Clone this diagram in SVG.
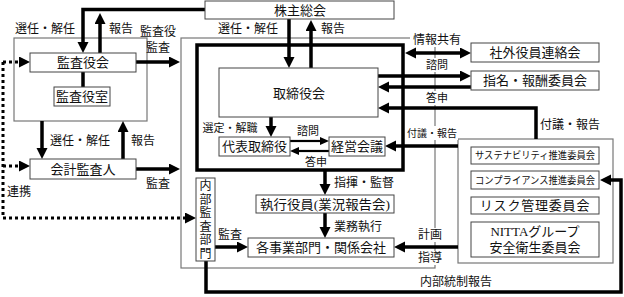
<svg xmlns="http://www.w3.org/2000/svg" width="624" height="297" viewBox="0 0 624 297">
<style>
text{font-family:"Liberation Serif","Noto Sans CJK JP",serif;fill:#111;text-anchor:middle;dominant-baseline:central}
.box{fill:#fff;stroke:#444;stroke-width:1}
.grp{fill:none;stroke:#777;stroke-width:1.2}
.big{font-size:13px}
.vt{font-size:12px}
.lbl{font-size:12px}
.sm{font-size:11px}
.bg{fill:#fff;stroke:none}
.th{fill:none;stroke:#000;stroke-width:3.5}
.md{fill:none;stroke:#000;stroke-width:2.2}
.dot{fill:none;stroke:#000;stroke-width:3;stroke-dasharray:3 3}
</style>
<defs>
<marker id="ah" markerUnits="userSpaceOnUse" markerWidth="12" markerHeight="12" refX="1" refY="5.5" orient="auto-start-reverse"><path d="M0,0L11,5.5L0,11z" fill="#000"/></marker>
<marker id="as" markerUnits="userSpaceOnUse" markerWidth="10" markerHeight="10" refX="1" refY="4" orient="auto"><path d="M0,0L9,4L0,8z" fill="#000"/></marker>
</defs>

<g id="containers">
<rect class="grp" x="14" y="38" width="133" height="83"/>
<rect class="grp" x="181" y="38" width="254" height="230"/>
<rect class="grp" x="458" y="139" width="155" height="124"/>
</g>

<g id="connectors">
<rect class="th" x="197" y="45" width="206" height="125"/>
<path class="th" d="M205,9.5H83V43" marker-end="url(#ah)"/>
<path class="th" d="M100,53V23" marker-end="url(#ah)"/>
<path class="th" d="M136,62H170" marker-end="url(#ah)"/>
<path class="th" d="M83,72V87"/>
<path class="th" d="M42,121V149" marker-end="url(#ah)"/>
<path class="th" d="M123,159V131" marker-end="url(#ah)"/>
<path class="th" d="M136,169H170" marker-end="url(#ah)"/>
<path class="dot" d="M3,62H20" marker-end="url(#ah)"/>
<path class="dot" d="M3,166H20" marker-end="url(#ah)"/>
<path class="dot" d="M3,62V218H186" marker-end="url(#ah)"/>
<path class="th" d="M289,19V58" marker-end="url(#ah)"/>
<path class="th" d="M311,68V30" marker-end="url(#ah)"/>
<path class="th" d="M271,117V127" marker-end="url(#ah)"/>
<path class="md" d="M290,141H321" marker-end="url(#as)"/>
<path class="md" d="M329,151H298" marker-end="url(#as)"/>
<path class="th" d="M325,170V185" marker-end="url(#ah)"/>
<path class="th" d="M325,213V228" marker-end="url(#ah)"/>
<path class="th" d="M215,247H238" marker-end="url(#ah)"/>
<path class="th" d="M458,247H404" marker-end="url(#ah)"/>
<path class="th" d="M206,261V292H621V180H610" marker-end="url(#ah)"/>
<path class="th" d="M378,76H461" marker-end="url(#ah)"/>
<path class="th" d="M471,87H388" marker-end="url(#ah)"/>
<path class="th" d="M415,53H461" marker-start="url(#ah)" marker-end="url(#ah)"/>
<path class="th" d="M536,139V108H388" marker-end="url(#ah)"/>
<path class="th" d="M458,146H395" marker-end="url(#ah)"/>
</g>

<g id="labels">
<text class="lbl" x="45" y="29">選任・解任</text>
<text class="lbl" x="121" y="29">報告</text>
<text class="lbl" x="158" y="32">監査役</text>
<text class="lbl" x="158" y="48">監査</text>
<text class="lbl" x="80" y="141">選任・解任</text>
<text class="lbl" x="143" y="141">報告</text>
<text class="lbl" x="158" y="184">監査</text>
<text class="lbl" x="19" y="192">連携</text>
<text class="lbl" x="248" y="29">選任・解任</text>
<text class="lbl" x="333" y="29">報告</text>
<text class="sm" x="230" y="128">選定・解職</text>
<text class="sm" x="308" y="131">諮問</text>
<text class="sm" x="316" y="162">答申</text>
<text class="lbl" x="364" y="183">指揮・監督</text>
<text class="lbl" x="358" y="227">業務執行</text>
<text class="lbl" x="230" y="235">監査</text>
<rect class="bg" x="410" y="32" width="54" height="15"/>
<text class="lbl" x="437" y="40">情報共有</text>
<rect class="bg" x="425" y="58" width="24" height="14"/>
<text class="sm" x="437" y="65">諮問</text>
<rect class="bg" x="425" y="91" width="24" height="14"/>
<text class="sm" x="437" y="98">答申</text>
<rect class="bg" x="406" y="126" width="52" height="14"/>
<text x="432" y="133" style="font-size:10px">付議・報告</text>
<text class="lbl" x="570" y="125">付議・報告</text>
<rect class="bg" x="417" y="228" width="26" height="14"/>
<text class="lbl" x="430" y="235">計画</text>
<rect class="bg" x="417" y="251" width="26" height="14"/>
<text class="lbl" x="430" y="258">指導</text>
<text class="lbl" x="456" y="282">内部統制報告</text>
</g>

<g id="n-kabunushi"><rect class="box" x="205" y="1" width="189" height="18"/><text class="big" x="300" y="10.5">株主総会</text></g>
<g id="n-kansayakukai"><rect class="box" x="30" y="53" width="106" height="19"/><text class="big" x="83" y="62.5">監査役会</text></g>
<g id="n-kansayakushitsu"><rect class="box" x="54" y="87" width="56" height="19"/><text class="big" x="82" y="96.5">監査役室</text></g>
<g id="n-kaikei"><rect class="box" x="30" y="159" width="106" height="20"/><text class="big" x="83" y="169">会計監査人</text></g>
<g id="n-torishimariyakukai"><rect class="box" x="219" y="68" width="159" height="49"/><text class="big" x="299" y="93">取締役会</text></g>
<g id="n-daihyo"><rect class="box" x="219" y="137" width="71" height="19"/><text class="big" x="254.5" y="146.5">代表取締役</text></g>
<g id="n-keiei"><rect class="box" x="329" y="137" width="56" height="19"/><text class="big" x="357" y="146.5">経営会議</text></g>
<g id="n-naibu"><rect class="box" x="196" y="178" width="19" height="83"/>
<text class="vt" x="205.5" y="186">内</text><text class="vt" x="205.5" y="199.5">部</text><text class="vt" x="205.5" y="213">監</text><text class="vt" x="205.5" y="226.5">査</text><text class="vt" x="205.5" y="240">部</text><text class="vt" x="205.5" y="253.5">門</text></g>
<g id="n-shikko"><rect class="box" x="256" y="195" width="138" height="18"/><text class="big" x="325" y="204" textLength="130" lengthAdjust="spacingAndGlyphs">執行役員(業況報告会)</text></g>
<g id="n-jigyo"><rect class="box" x="248" y="238" width="146" height="19"/><text class="big" x="321" y="247.5">各事業部門・関係会社</text></g>
<g id="n-shagai"><rect class="box" x="471" y="43" width="128" height="19"/><text class="big" x="535" y="52.5">社外役員連絡会</text></g>
<g id="n-shimei"><rect class="box" x="471" y="71" width="128" height="19"/><text class="big" x="535" y="80.5">指名・報酬委員会</text></g>
<g id="n-sustain"><rect class="box" x="471" y="147" width="128" height="17"/><text x="535" y="155.5" style="font-size:10px" textLength="120" lengthAdjust="spacingAndGlyphs">サステナビリティ推進委員会</text></g>
<g id="n-compliance"><rect class="box" x="471" y="171" width="128" height="18"/><text x="535" y="180" style="font-size:10px" textLength="120" lengthAdjust="spacingAndGlyphs">コンプライアンス推進委員会</text></g>
<g id="n-risk"><rect class="box" x="471" y="197" width="128" height="17"/><text class="big" x="535" y="205.5" letter-spacing="0.8">リスク管理委員会</text></g>
<g id="n-nitta"><rect class="box" x="471" y="222" width="128" height="35"/><text class="big" x="535" y="231">NITTAグループ</text><text class="big" x="535" y="247">安全衛生委員会</text></g>
</svg>
